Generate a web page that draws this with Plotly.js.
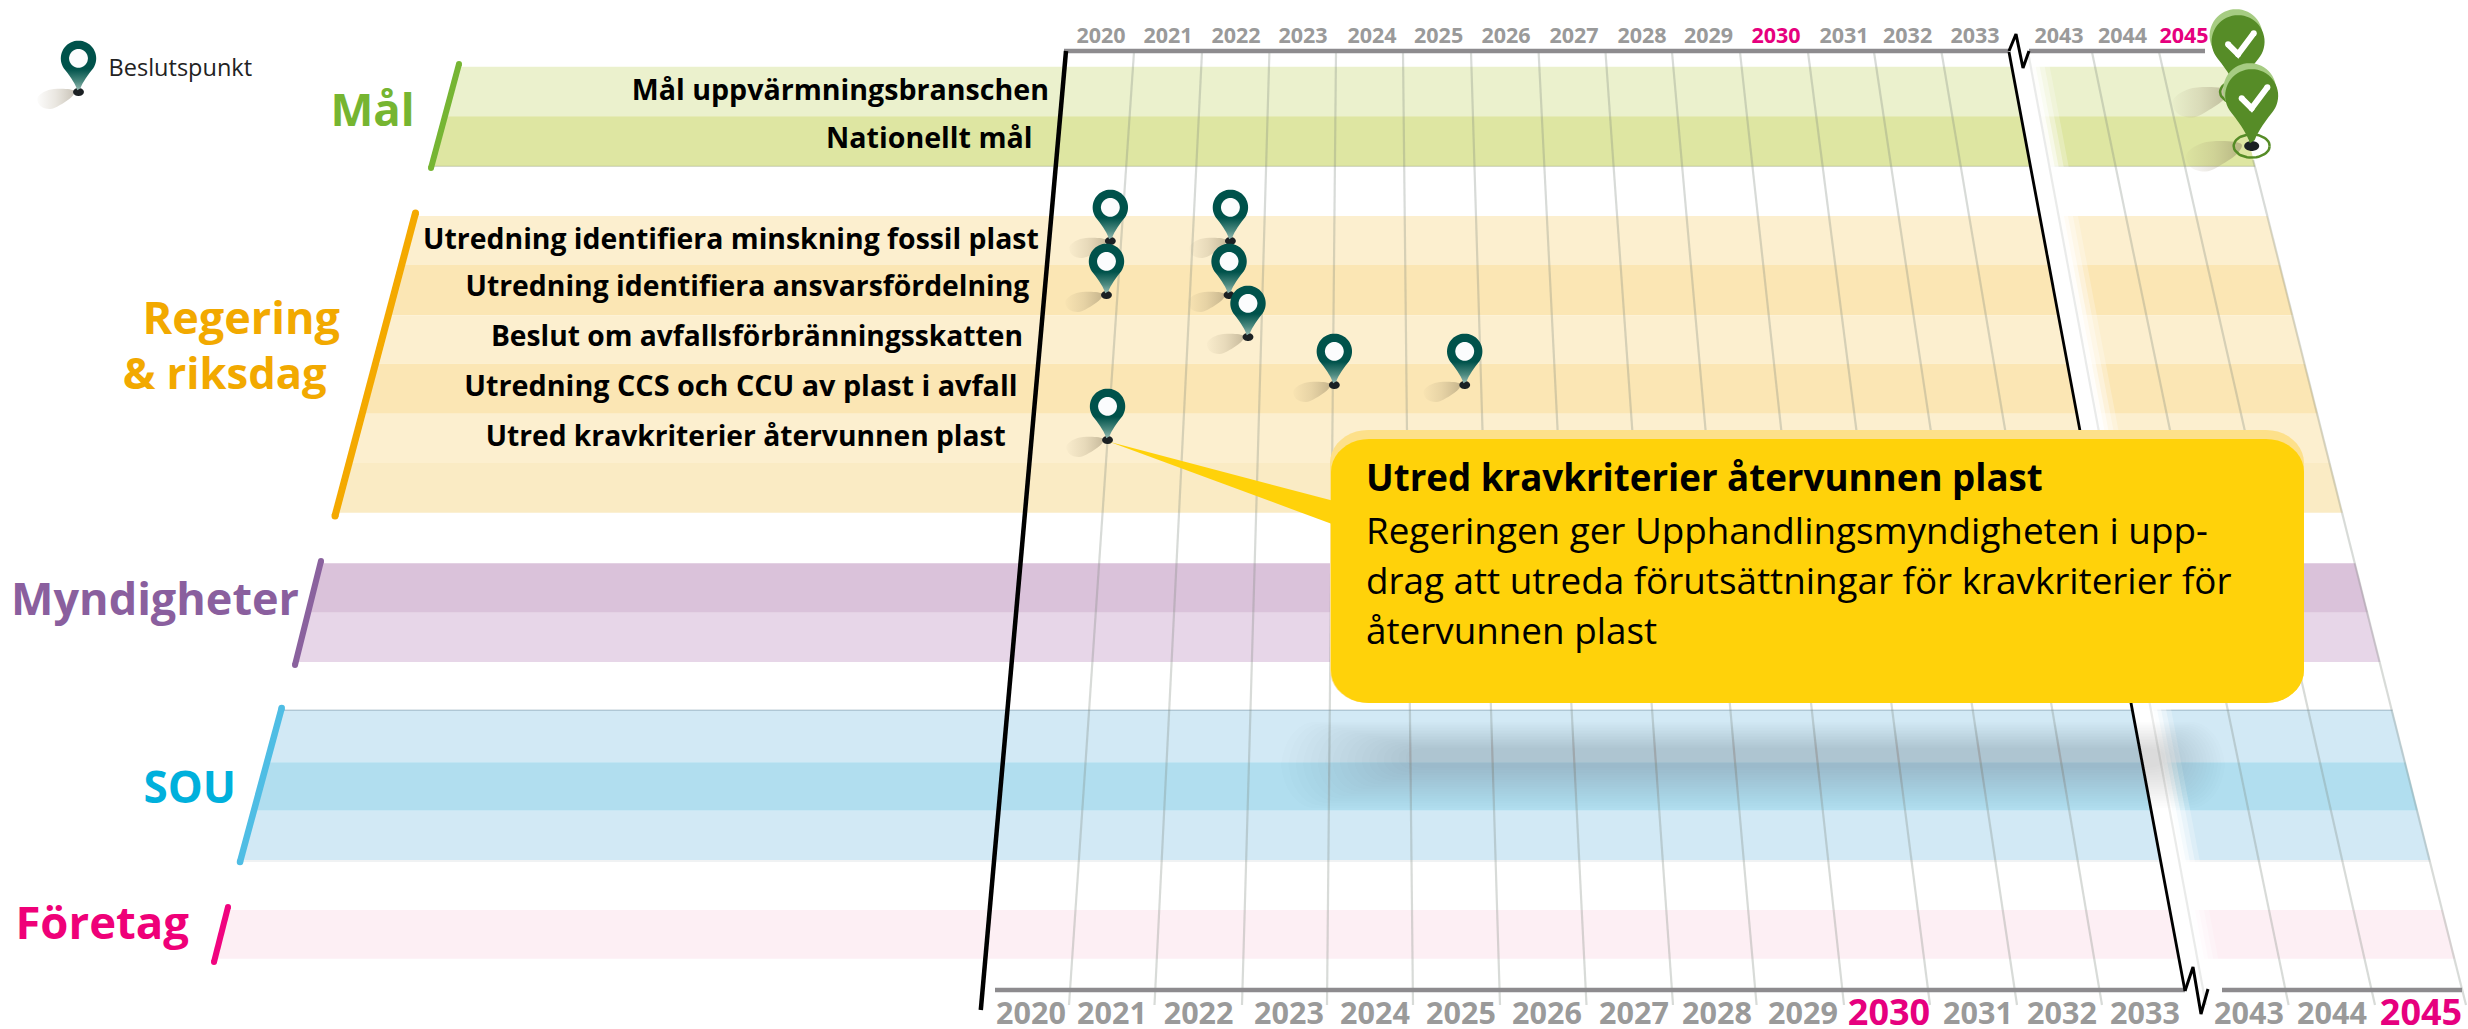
<!DOCTYPE html>
<html><head><meta charset="utf-8"><title>Beslutspunkt tidslinje</title>
<script src="https://cdn.plot.ly/plotly-3.0.1.min.js"></script>
<style>html,body{margin:0;padding:0;background:#fff;overflow:hidden}</style></head>
<body><div id="chart" style="width:2468px;height:1029px"></div>
<script>
// ---------- data ----------
const years = ['2020','2021','2022','2023','2024','2025','2026','2027','2028','2029','2030','2031','2032','2033','2043','2044','2045'];
const highlightYears = ['2030','2045'];
const rowNames = ['Mål uppvärmningsbranschen','Nationellt mål','Utredning identifiera minskning fossil plast','Utredning identifiera ansvarsfördelning','Beslut om avfallsförbränningsskatten','Utredning CCS och CCU av plast i avfall','Utred kravkriterier återvunnen plast'];
const groupNames = ['Mål','Regering','& riksdag','Myndigheter','SOU','Företag'];
const legendLabel = 'Beslutspunkt';
const calloutTitle = 'Utred kravkriterier återvunnen plast';
const calloutLines = ['Regeringen ger Upphandlingsmyndigheten i upp-','drag att utreda förutsättningar för kravkriterier för','återvunnen plast'];
// decision points: position on the time scale, height on the lane scale
const pinYear = [2020.85,2022.53,2020.85,2022.54,2022.82,2024.02,2025.78,2021.0];
const pinLane = [241,241,295,295,337,385,385,440];
const goalYear = [2046.0,2046.0];
const goalLane = [92,146];

// ---------- geometry of the tilted plane ----------
const gridTop = [1066,1134,1202,1269.4,1336,1403,1471,1538.6,1605.5,1672,1740,1808,1874,1941.5,2009,2028,2092,2159,2226];
const gridBot = [981.5,1069,1154.5,1242,1327,1413,1500,1586.5,1673,1756.6,1844,1930,2017,2102,2189,2206,2288.6,2375,2466];
const gridYear = [2020,2021,2022,2023,2024,2025,2026,2027,2028,2029,2030,2031,2032,2033,2034,2043,2044,2045,2046];
const yTop = 52, yBot = 1005;
const lt = y => (y-yTop)/(yBot-yTop);
const gridX = (i,y) => gridTop[i]+(gridBot[i]-gridTop[i])*lt(y);
function yearX(yr,y){let i=0;while(i<gridYear.length-2&&yr>=gridYear[i+1])i++;
  const f=(yr-gridYear[i])/(gridYear[i+1]-gridYear[i]);const a=gridX(i,y),b=gridX(i+1,y);return a+(b-a)*f;}
const leftX = y => 459-0.2734*(y-64);
const rightX = y => 2230+0.2525*(y-66.7);

const bands = [
 [66.7,116.3,'#ebf1cd'],[116.3,166.3,'#dee6a2'],
 [216,265,'#fcefcf'],[265,315.3,'#fbe6b4'],[315.3,363.7,'#fcefcf'],[363.7,413.7,'#fbe6b4'],[413.7,463,'#fcefcf'],[463,512.7,'#faebc4'],
 [563.3,612.7,'#dac2da'],[612.7,662,'#e7d6e8'],
 [710.3,762.3,'#d2e9f5'],[762.3,810.7,'#b1deef'],[810.7,860,'#d2e9f5'],
 [910,958.7,'#fdeff4']];
const bars = [[459,64,431,168,'#76b533',6],[415.5,213,335,516,'#f4a900',7],[321,561,295,665,'#8a629e',6],[281.7,708,240,862,'#4fbde4',6.5],[228,907,214,962,'#f0047f',6]];

const traces = [];
const skip = {hoverinfo:'skip',showlegend:false,cliponaxis:false};
function poly(x,y,color,extra){traces.push(Object.assign({type:'scatter',mode:'none',x,y,fill:'toself',fillcolor:color,line:{width:0}},skip,extra||{}));}
function line(x,y,color,w,extra){traces.push(Object.assign({type:'scatter',mode:'lines',x,y,line:{color,width:w}},skip,extra||{}));}

// bands
bands.forEach(b=>poly([leftX(b[0]),rightX(b[0]),rightX(b[1]),leftX(b[1]),leftX(b[0])],[b[0],b[0],b[1],b[1],b[0]],b[2]));
line([leftX(710.3),rightX(710.3)],[710.3,710.3],'rgba(120,150,170,.45)',1.5);
line([leftX(166.3),rightX(166.3)],[166.3,166.3],'rgba(130,140,110,.3)',1.2);
line([leftX(860),rightX(860)],[861,861],'rgba(180,190,195,.2)',2);

// white break strip with a soft right edge
const brk = (y,d)=>gridX(14,y)+d;
const sY0=60,sY1=962;
[[38,.25],[33,.35],[28,.5],[24,.7],[20,1]].forEach(s=>{
  poly([brk(sY0,0),brk(sY0,s[0]),brk(sY1,s[0]),brk(sY1,0),brk(sY0,0)],[sY0,sY0,sY1,sY1,sY0],'rgba(255,255,255,'+s[1]+')');
});

// grid lines
gridTop.forEach((t,i)=>{
  if(i===0||i===14)return;
  const y0 = i===18?160:yTop;
  line([gridX(i,y0),gridX(i,yBot)],[y0,yBot],i===15?'rgba(150,155,150,.2)':'rgba(125,135,125,.3)',2.2);
});
// axes
line([1064,2009],[51,51],'#8d8b8e',4.5);line([2029,2205],[51,51],'#8d8b8e',4.5);
line([995,2185],[990,990],'#8d8b8e',4.5);line([2222,2462],[990,990],'#8d8b8e',4.5);
// black year-start line and break marks
line([1066,980.8],[51,1010],'#000',4.5);
line([2009,2016,2023,2029],[51,34,68,51],'#000',3);
line([2185,2193,2201,2208],[991,967,1014,989],'#000',3);
line([2009,2185],[52,991],'#000',2.8);
// group bars
bars.forEach(b=>traces.push(Object.assign({type:'scatter',mode:'lines+markers',x:[b[0],b[2]],y:[b[1],b[3]],line:{color:b[4],width:b[5]},marker:{color:b[4],size:b[5]}},skip)));

// pins
function ell(cx,cy,rx,ry){const x=[],y=[];for(let a=0;a<=48;a++){x.push(cx+rx*Math.cos(a*Math.PI/24));y.push(cy+ry*Math.sin(a*Math.PI/24));}return[x,y];}
function blob(tx,ty,s){
  const px=[-4,-30,-41,-38,-28,-15,-6,-4],py=[-1,-2,6,14,17,11,4,-1];
  traces.push(Object.assign({type:'scatter',mode:'none',fill:'toself',x:px.map(v=>tx+v*s),y:py.map(v=>ty+v*s),line:{width:0,shape:'spline'},
    fillgradient:{type:'horizontal',start:tx-42*s,stop:tx-4*s,colorscale:[[0,'rgba(150,135,105,0.02)'],[.5,'rgba(150,135,105,.2)'],[1,'rgba(125,112,85,.42)']]}},skip));
}
function pinBody(tx,ty,R,dx,dy){
  const cx=tx+(dx||0),cy=ty-1.9*R+(dy||0),x=[],y=[],th=40*Math.PI/180,n=40;
  const sweep=Math.PI+2*th;
  for(let a=0;a<=n;a++){const t=th-a*sweep/n;x.push(cx+R*Math.cos(t));y.push(cy+R*Math.sin(t));}
  const px=cx-R*Math.cos(th),py=cy+R*Math.sin(th),sw=0.07*R,qy=ty-0.55*R;
  for(let k=1;k<=8;k++){const u=k/8;x.push((1-u)*(1-u)*px+2*u*(1-u)*(tx-0.2*R)+u*u*(tx-sw));y.push((1-u)*(1-u)*py+2*u*(1-u)*qy+u*u*(ty-0.1*R));}
  const qx=2*cx-px;
  for(let k=7;k>=0;k--){const u=k/8;x.push((1-u)*(1-u)*qx+2*u*(1-u)*(tx+0.2*R)+u*u*(tx+sw));y.push((1-u)*(1-u)*py+2*u*(1-u)*qy+u*u*(ty-0.1*R));}
  x.push(x[0]);y.push(y[0]);
  return[x,y];
}
function tealPin(tx,ty){
  const R=17.7;
  blob(tx,ty,1);
  const e=ell(tx,ty,5.4,4);poly(e[0],e[1],'#1b2023');
  const b=pinBody(tx,ty,R);
  traces.push(Object.assign({type:'scatter',mode:'none',fill:'toself',x:b[0],y:b[1],line:{width:0},
    fillgradient:{type:'vertical',start:ty-2.9*R,stop:ty,colorscale:[[0,'#00524b'],[.55,'#00524b'],[.8,'#4d8a80'],[1,'#a5c4bd']]}},skip));
  const h=ell(tx,ty-1.9*R,9.4,9.4);poly(h[0],h[1],'#fbfcfd');
}
function goalPin(tx,ty){
  const R=26.5;
  blob(tx-4,ty,1.5);
  const ring=ell(tx,ty,18,11.7);
  traces.push(Object.assign({type:'scatter',mode:'lines',x:ring[0],y:ring[1],line:{color:'#568c27',width:2.5}},skip));
  const e=ell(tx,ty,7.5,5);poly(e[0],e[1],'#1b2023');
  const l=pinBody(tx,ty-6,R,-2,0);poly(l[0],l[1],'#a6cc82');
  const b=pinBody(tx,ty,R);poly(b[0],b[1],'#568c27');
  traces.push(Object.assign({type:'scatter',mode:'lines+markers',x:[tx-10,tx,tx+15.7],y:[ty-47.7,ty-37.7,ty-58.7],line:{color:'#fff',width:6},marker:{color:'#fff',size:6}},skip));
}
// legend pin
tealPin(78.5,92);
pinYear.forEach((p,i)=>tealPin(yearX(p,pinLane[i]),pinLane[i]));
goalYear.forEach((g,i)=>goalPin(yearX(g,goalLane[i])+2,goalLane[i]));

// ---------- text ----------
const FONT='"Open Sans", sans-serif';
const topMid=[1101,1168,1236,1303,1372,1438.6,1506,1574,1642,1708.5,1776,1844,1907.6,1975,2059,2122.5,2184];
const botMid=[1031,1112,1198.6,1289,1375,1461,1547,1634,1717,1803,1889,1978,2062,2145,2249,2332,2421];
const yearColor=years.map(v=>highlightYears.includes(v)?'#e6007e':'#9a9a9a');
traces.push(Object.assign({type:'scatter',mode:'text',x:topMid,y:years.map(()=>37.5),text:years,textposition:'middle center',
  textfont:{family:FONT,size:21.5,weight:700,color:yearColor}},skip));
traces.push(Object.assign({type:'scatter',mode:'text',x:botMid,y:years.map(()=>1016),text:years,textposition:'middle center',
  textfont:{family:FONT,size:years.map(v=>v==='2030'||v==='2045'?36:30.5),weight:700,color:yearColor}},skip));
const rowRight=[1049,1032.5,1038.8,1029.4,1023,1017.5,1005.7];
const rowY=[92.5,141,241.5,289,339,389,439];
const rowSize=[28.6,28.6,28.4,28.35,28.2,28.75,28.2];
traces.push(Object.assign({type:'scatter',mode:'text',x:rowRight,y:rowY,text:rowNames,textposition:'middle left',
  textfont:{family:FONT,size:rowSize,weight:700,color:'#000'}},skip));
const groupRight=[414.7,340,326.6,299,236,189];
const groupY=[115,323,378.5,603.5,791.5,927.5];
const groupSize=[45.5,45,43.5,45,44,45.5];
const groupColor=['#76b531','#f2a900','#f2a900','#8a5f9e','#00b0dc','#ef0078'];
traces.push(Object.assign({type:'scatter',mode:'text',x:groupRight,y:groupY,text:groupNames,textposition:'middle left',
  textfont:{family:FONT,size:groupSize,weight:700,color:groupColor}},skip));
traces.push(Object.assign({type:'scatter',mode:'text',x:[108.6],y:[70],text:[legendLabel],textposition:'middle right',
  textfont:{family:FONT,size:23.5,color:'#222'}},skip));

// ---------- callout ----------
function rrect(x0,y0,x1,y1,rx,ry){const x=[],y=[];const cs=[[x1-rx,y0+ry,-90],[x1-rx,y1-ry,0],[x0+rx,y1-ry,90],[x0+rx,y0+ry,180]];
  cs.forEach(c=>{for(let a=0;a<=10;a++){const t=(c[2]+a*9)*Math.PI/180;x.push(c[0]+rx*Math.cos(t));y.push(c[1]+ry*Math.sin(t));}});x.push(x[0]);y.push(y[0]);return[x,y];}
for(let i=0;i<18;i++){const u=i/17;
  const r=rrect(1281+125*u,722+26*u,2225-60*u,808-40*u,34-14*u,40*(1-u)+8);poly(r[0],r[1],'rgba(60,80,65,0.0125)');}
const boxTop=rrect(1330,430,2304,703,38,33);poly(boxTop[0],boxTop[1],'#fde08a');
poly([1110,1334,1332,1110],[442,501,524,442],'#ffd20a');
const boxMain=rrect(1331,439,2304,703,38,33);poly(boxMain[0],boxMain[1],'#ffd20a');
traces.push(Object.assign({type:'scatter',mode:'text',x:[1366],y:[481.5],text:[calloutTitle],textposition:'middle right',
  textfont:{family:FONT,size:36.7,weight:700,color:'#000'}},skip));
traces.push(Object.assign({type:'scatter',mode:'text',x:[1366,1366,1366],y:[535,585,635],text:calloutLines,textposition:'middle right',
  textfont:{family:FONT,size:36.8,color:'#000'}},skip));

const layout={width:2468,height:1029,margin:{l:0,r:0,t:0,b:0},paper_bgcolor:'#fff',plot_bgcolor:'#fff',showlegend:false,
  xaxis:{range:[0,2468],visible:false,fixedrange:true},yaxis:{range:[1029,0],visible:false,fixedrange:true},hovermode:false};
Plotly.newPlot('chart',traces,layout,{displayModeBar:false,staticPlot:true});
</script>
</body></html>
